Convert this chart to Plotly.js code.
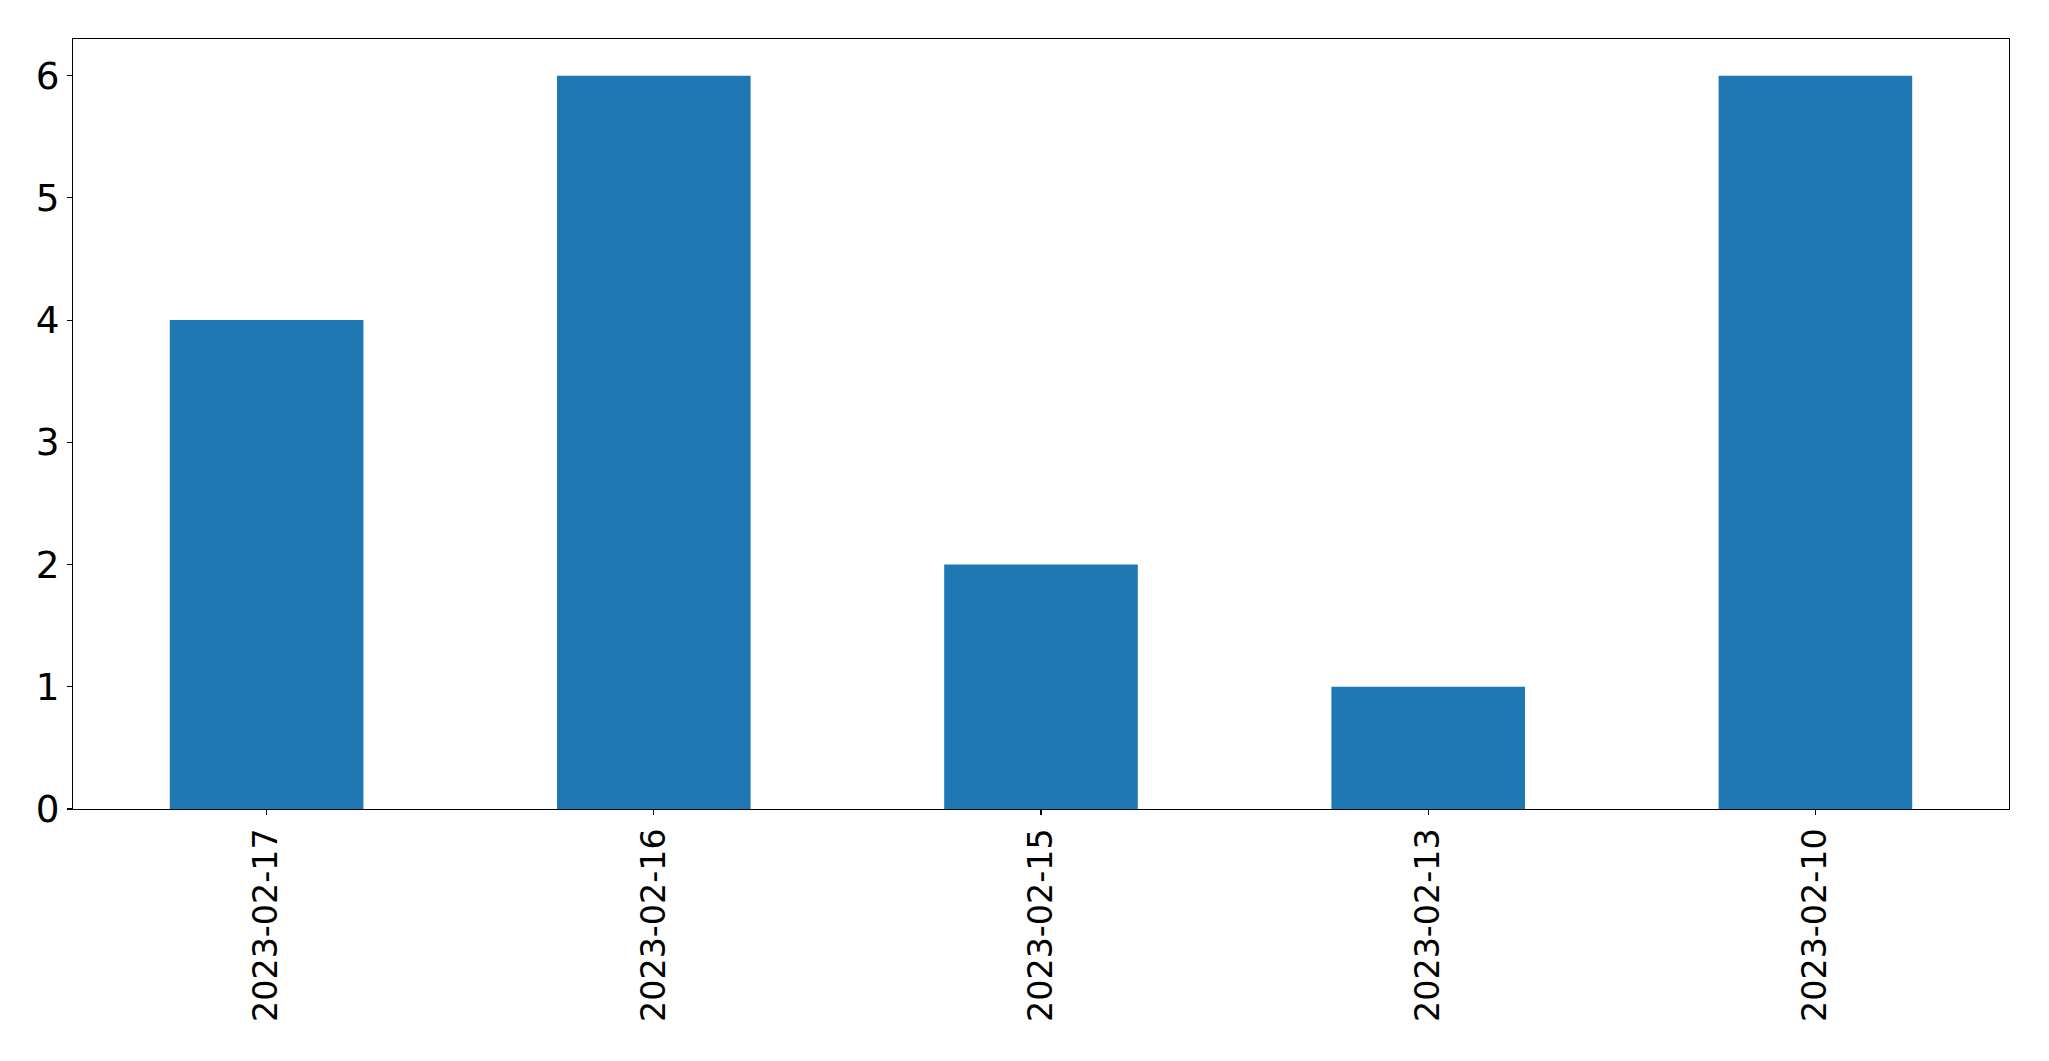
<!DOCTYPE html>
<html>
<head>
<meta charset="utf-8">
<script src="https://cdn.plot.ly/plotly-3.0.1.min.js"></script>
<style>
  html, body { margin: 0; padding: 0; background: #ffffff; }
  #chart { width: 2049px; height: 1061px; }
</style>
</head>
<body>
<div id="chart"></div>
<script>
const categories = ["2023-02-17", "2023-02-16", "2023-02-15", "2023-02-13", "2023-02-10"];
const counts = [4, 6, 2, 1, 6];
const yTicks = [0, 1, 2, 3, 4, 5, 6];

const xFont = { family: "DejaVu Sans, sans-serif", size: 33.3, color: "#000000" };
const yFont = { family: "DejaVu Sans, sans-serif", size: 37.3, color: "#000000" };

const trace = {
  type: "bar",
  x: categories,
  y: counts,
  width: 0.5,
  marker: { color: "#1f77b4", line: { width: 0 } },
  hoverinfo: "x+y"
};

const layout = {
  width: 2049,
  height: 1061,
  margin: { l: 72.5, r: 40, t: 39.3, b: 251.7, pad: 0 },
  paper_bgcolor: "#ffffff",
  plot_bgcolor: "#ffffff",
  showlegend: false,
  font: xFont,
  xaxis: {
    type: "category",
    range: [-0.5, 4.5],
    tickangle: -90,
    ticks: "outside",
    ticklen: 5,
    tickwidth: 1.1,
    tickcolor: "#000000",
    showline: true,
    linecolor: "#000000",
    linewidth: 1.1,
    mirror: true,
    showgrid: false,
    zeroline: false,
    tickfont: xFont,
    automargin: false
  },
  yaxis: {
    range: [0, 6.3],
    tickmode: "array",
    tickvals: yTicks,
    ticktext: yTicks.map(String),
    ticks: "outside",
    ticklen: 5,
    tickwidth: 1.1,
    tickcolor: "#000000",
    showline: true,
    linecolor: "#000000",
    linewidth: 1.1,
    mirror: true,
    showgrid: false,
    zeroline: false,
    tickfont: yFont,
    automargin: false
  }
};

Plotly.newPlot("chart", [trace], layout, { displayModeBar: false, staticPlot: true });
</script>
</body>
</html>
